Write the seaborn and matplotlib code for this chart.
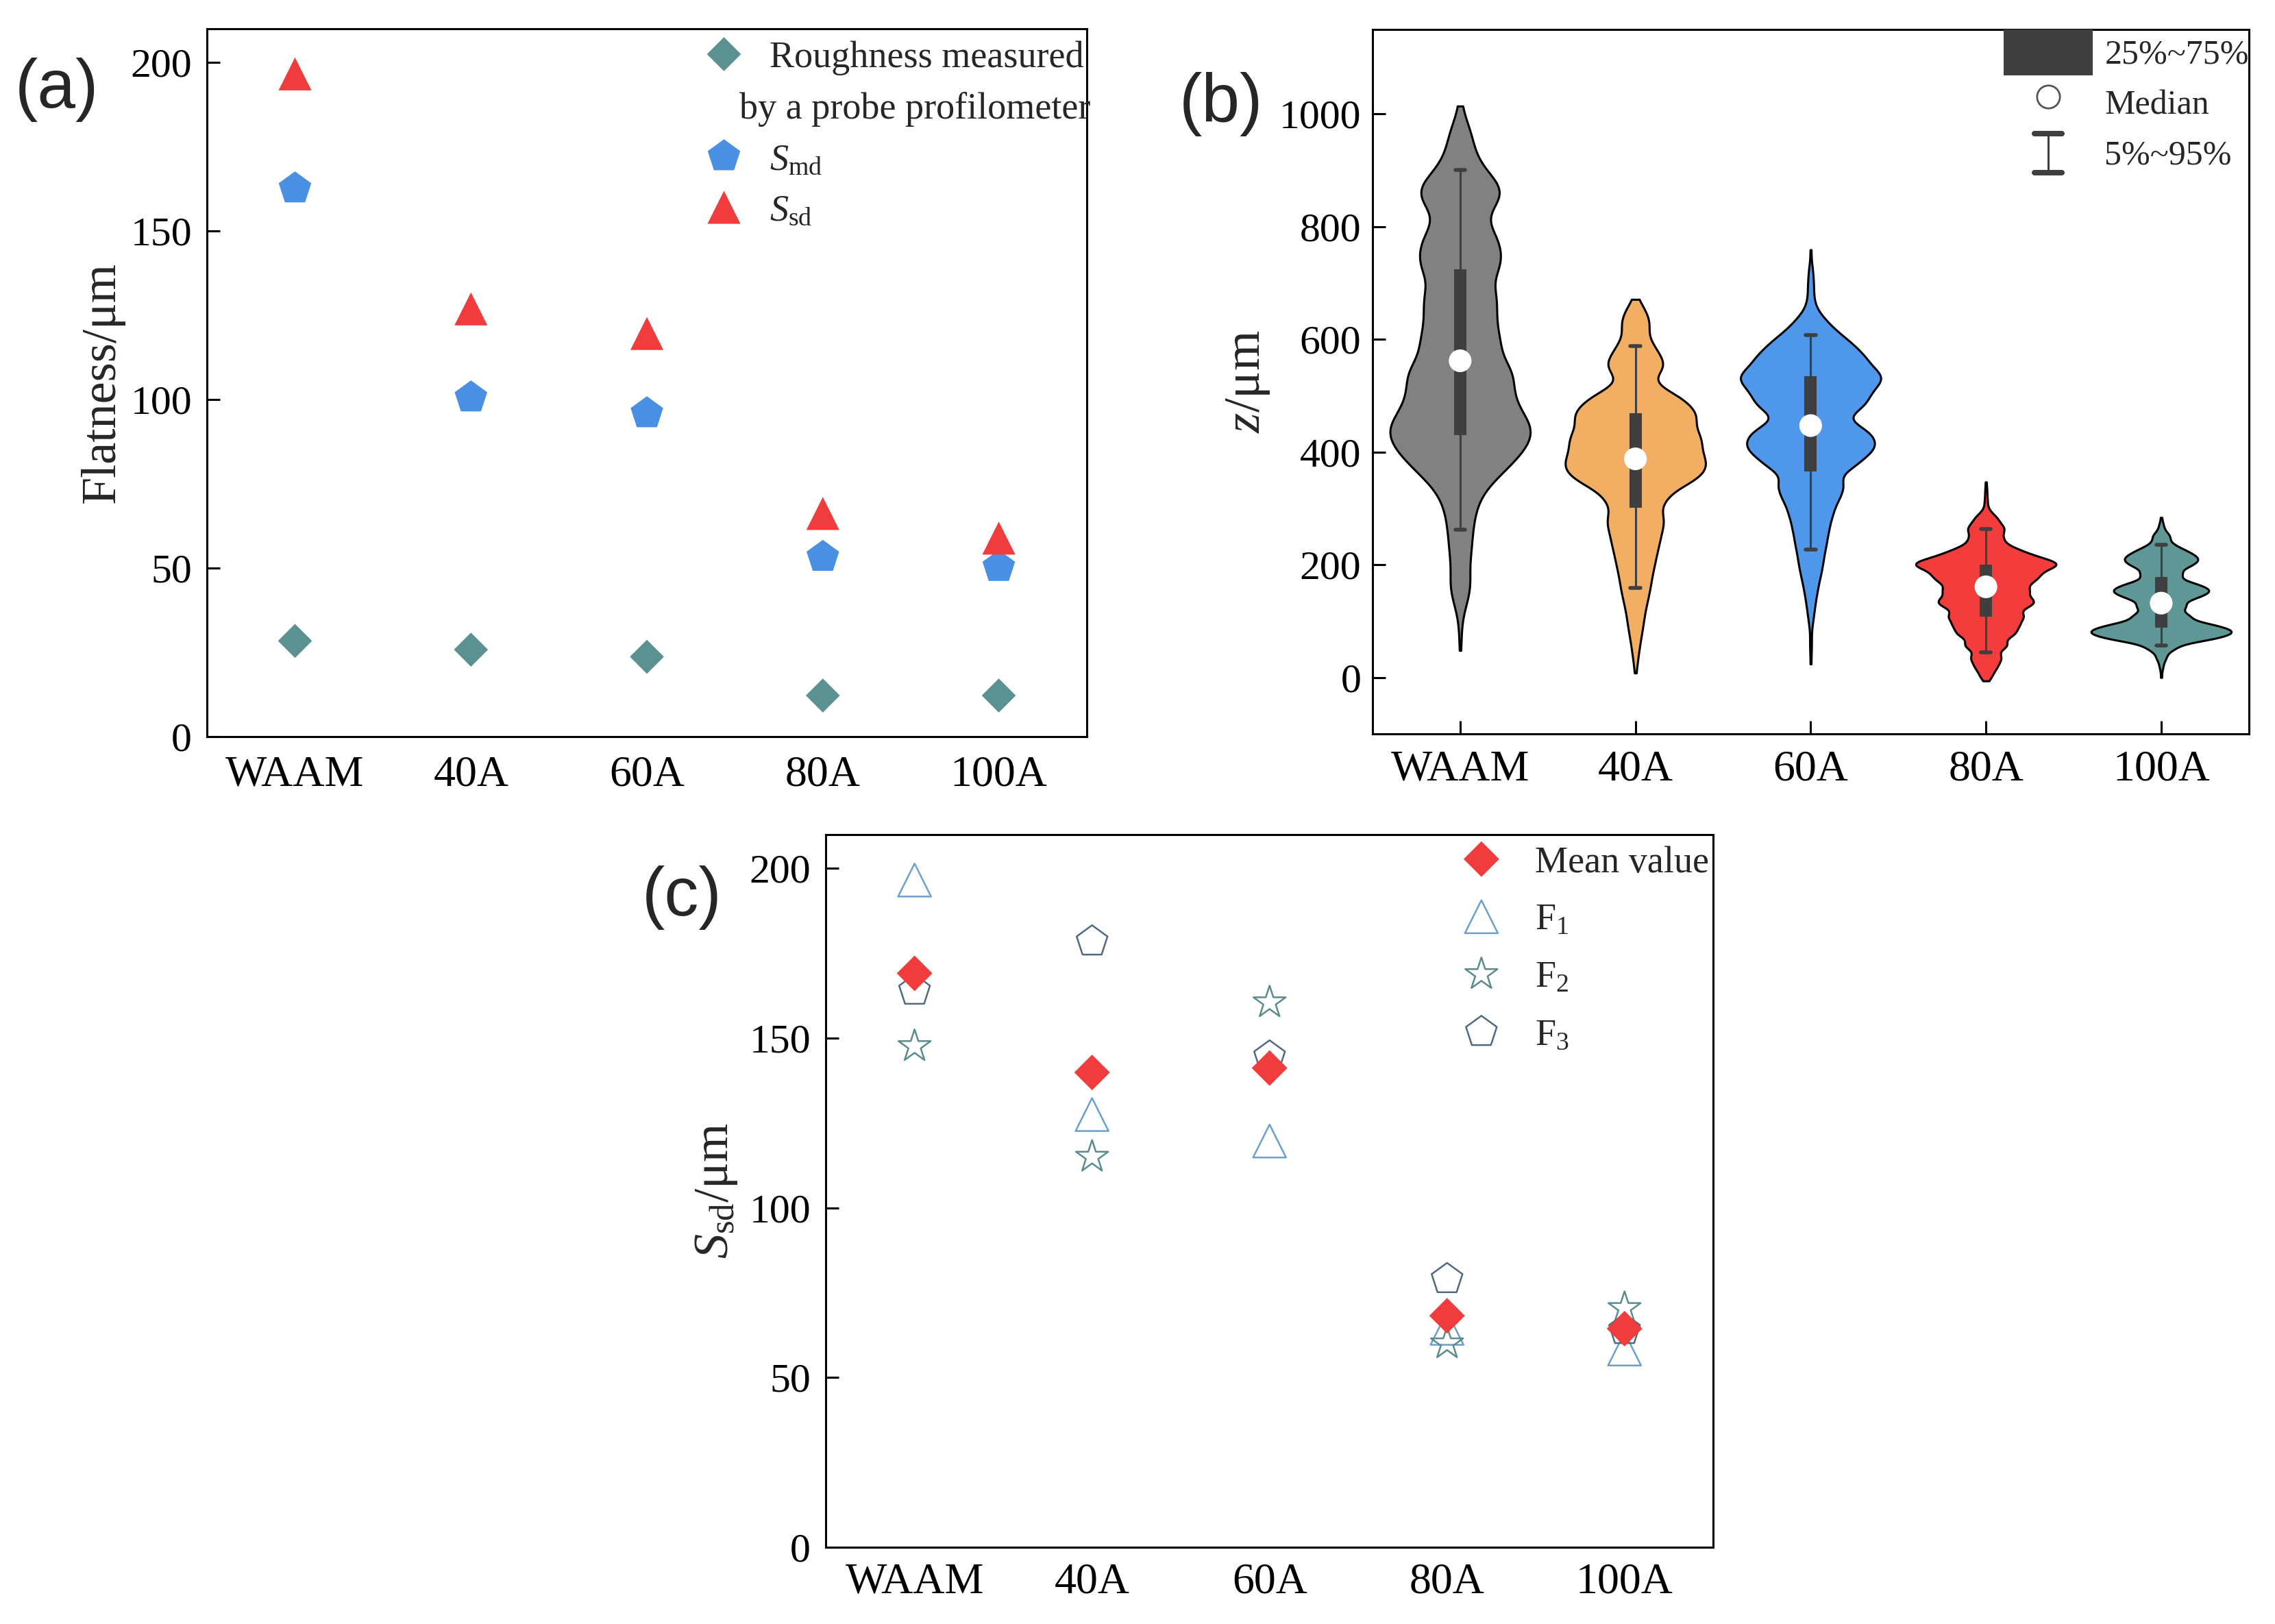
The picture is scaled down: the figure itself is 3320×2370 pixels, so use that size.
import numpy as np
import pandas as pd
import matplotlib
matplotlib.use("Agg")
import matplotlib.pyplot as plt
import seaborn as sns
from matplotlib.lines import Line2D
from matplotlib.patches import Rectangle
from matplotlib.legend_handler import HandlerBase

groups = ["WAAM", "40A", "60A", "80A", "100A"]

# ---- (a) flatness values
rough_probe = [28.4, 25.8, 23.7, 12.2, 12.2]
smd = [162.6, 100.6, 95.9, 53.3, 50.3]
ssd = [196.6, 126.9, 119.6, 66.2, 58.9]

# ---- (c) Ssd of the three scans and their mean
ssd_mean = [169.1, 139.9, 141.2, 68.2, 64.4]
ssd_f1 = [196.6, 127.5, 119.7, 64.5, 58.4]
ssd_f2 = [147.6, 115.0, 160.5, 60.0, 70.4]
ssd_f3 = [164.0, 178.5, 144.6, 79.0, 64.0]

# ---- (b) violin outlines: height (um) and relative width
waam_z = [48, 78, 119, 146, 173, 214, 248, 282, 316, 350, 378, 405, 432, 459, 493,
          527, 554, 595, 636, 677, 724, 758, 792, 840, 867, 888, 922, 963, 1000, 1014]
waam_w = [3, 7, 15, 40, 55, 57, 60, 70, 95, 150, 205, 265, 300, 307, 280,
          240, 235, 250, 215, 237, 225, 205, 190, 185, 175, 115, 92, 75, 15, 3]
a40_z = [8, 27, 45, 65, 85, 105, 126, 146, 166, 187, 207, 227, 247, 268, 288, 316,
         341, 357, 373, 389, 406, 422, 438, 458, 471, 487, 495, 511, 544, 560, 576,
         592, 619, 637, 655, 671]
a40_w = [3, 10, 18, 28, 38, 48, 58, 70, 83, 93, 103, 118, 133, 150, 168, 208,
         243, 278, 310, 303, 273, 283, 288, 268, 238, 168, 143, 153, 158, 128, 88,
         93, 80, 65, 45, 3]
a60_z = [24, 60, 102, 129, 156, 183, 209, 236, 263, 290, 317, 343, 376, 402, 424,
         445, 477, 499, 520, 539, 563, 585, 606, 628, 644, 665, 692, 719, 759]
a60_w = [3, 6, 12, 22, 37, 52, 67, 82, 97, 117, 147, 187, 242, 302, 272,
         237, 252, 242, 262, 314, 262, 197, 137, 72, 27, 17, 16, 15, 3]
a80_z = [-6, 4, 20, 36, 57, 77, 93, 109, 126, 138, 154, 170, 183, 197, 207,
         219, 231, 247, 264, 280, 292, 312, 330, 347]
a80_w = [3, 38, 68, 98, 143, 173, 188, 223, 203, 238, 248, 233, 258, 310, 268,
         188, 123, 98, 113, 68, 23, 10, 6, 3]
a100_z = [0, 20, 36, 53, 69, 81, 93, 109, 126, 142, 154, 166, 183, 199, 211,
          223, 235, 251, 268, 284]
a100_w = [3, 10, 25, 75, 235, 310, 235, 145, 125, 155, 215, 155, 105, 135, 160,
          115, 55, 45, 15, 3]

# percentiles drawn inside the violins
p5 = [262, 159, 227, 45, 57]
q25 = [430, 301, 366, 108, 89]
q50 = [562, 388, 447, 161, 132]
q75 = [724, 469, 535, 200, 179]
p95 = [901, 588, 608, 263, 236]

violin_colors = ["#818181", "#f2ae62", "#4f97ea", "#f33d3d", "#5f9696"]
inner_color = "#3f3f3f"

# ---------------------------------------------------------------
sns.set_style("ticks")
plt.rcParams["font.family"] = ["Liberation Serif", "DejaVu Serif"]
plt.rcParams["mathtext.fontset"] = "custom"
plt.rcParams["mathtext.rm"] = "Liberation Serif"
plt.rcParams["mathtext.it"] = "Liberation Serif:italic"
plt.rcParams["mathtext.bf"] = "Liberation Serif:bold"
plt.rcParams["axes.linewidth"] = 1.1
plt.rcParams["axes.edgecolor"] = "black"

fig = plt.figure(figsize=(16.6, 11.85), dpi=200)
ax_a = fig.add_axes([0.0910, 0.5464, 0.3867, 0.4359])
ax_b = fig.add_axes([0.6033, 0.5481, 0.3852, 0.4338])
ax_c = fig.add_axes([0.3630, 0.0473, 0.3901, 0.4388])


def style_axes(ax, xtick_len, ypad, xpad):
    for sp in ax.spines.values():
        sp.set_visible(True)
        sp.set_linewidth(1.1)
        sp.set_color("black")
    ax.tick_params(axis="y", direction="in", length=7, width=1.1,
                   labelsize=21.5, pad=ypad, right=False, colors="black")
    ax.tick_params(axis="x", direction="in", length=xtick_len, width=1.1,
                   labelsize=23, pad=xpad, top=False, colors="black")
    ax.set_xlabel("")


# ---------------- (a)
sns.scatterplot(x=groups, y=rough_probe, marker="D", s=160, color="#5b9191",
                edgecolor="none", label="Roughness measured", ax=ax_a, zorder=3)
sns.scatterplot(x=groups, y=smd, marker="p", s=324, color="#4a90e2",
                edgecolor="none", label=r"$S_{\mathrm{md}}$", ax=ax_a, zorder=3)
sns.scatterplot(x=groups, y=ssd, marker="^", s=300, color="#f03c3c",
                edgecolor="none", label=r"$S_{\mathrm{sd}}$", ax=ax_a, zorder=3)
ax_a.set_xlim(-0.5, 4.5)
ax_a.set_ylim(0, 210)
ax_a.set_yticks([0, 50, 100, 150, 200])
ax_a.set_ylabel("Flatness/μm", fontsize=26, labelpad=3)
style_axes(ax_a, 0, 8, 10)

h, l = ax_a.get_legend_handles_labels()
h.insert(1, Line2D([], [], linestyle="none"))
l.insert(1, "by a probe profilometer")
leg_a = ax_a.legend(h, l, loc="upper left", bbox_to_anchor=(0.5623, 0.983),
                    frameon=False, fontsize=19.5, borderpad=0, borderaxespad=0,
                    handlelength=1.2, handletextpad=0.63, labelspacing=0.44,
                    scatterpoints=1, scatteryoffsets=[0.5])
leg_a.get_texts()[1].set_x(-44)

# ---------------- (b)
frames = []
for g, zz, ww in zip(groups, [waam_z, a40_z, a60_z, a80_z, a100_z],
                     [waam_w, a40_w, a60_w, a80_w, a100_w]):
    counts = np.round(np.array(ww) * 0.3).astype(int)
    frames.append(pd.DataFrame({"group": g, "z": np.repeat(zz, counts)}))
df_b = pd.concat(frames, ignore_index=True)

sns.violinplot(data=df_b, x="group", y="z", hue="group", order=groups,
               hue_order=groups, palette=dict(zip(groups, violin_colors)),
               inner=None, cut=0, density_norm="width", bw_method=0.135,
               gridsize=400, width=0.8, linewidth=1.1, linecolor="black",
               saturation=1, legend=False, ax=ax_b)

pos = np.arange(len(groups))
ax_b.vlines(pos, p5, p95, color=inner_color, lw=1.1, zorder=3)
ax_b.vlines(pos, q25, q75, color=inner_color, lw=6.5, zorder=4)
ax_b.hlines(p5, pos - 0.028, pos + 0.028, color=inner_color, lw=2.0,
            capstyle="round", zorder=4)
ax_b.hlines(p95, pos - 0.028, pos + 0.028, color=inner_color, lw=2.0,
            capstyle="round", zorder=4)
ax_b.scatter(pos, q50, s=142, color="white", edgecolors="none", zorder=5)

ax_b.set_xlim(-0.5, 4.5)
ax_b.set_ylim(-100, 1150)
ax_b.set_yticks([0, 200, 400, 600, 800, 1000])
ax_b.set_ylabel("$z$/μm", fontsize=27, labelpad=4)
style_axes(ax_b, 7, 6, 8.5)


class WhiskerKey:
    pass


class IBeamHandler(HandlerBase):
    def create_artists(self, legend, orig_handle, xdescent, ydescent,
                       width, height, fontsize, trans):
        cx = -xdescent + width / 2
        y0 = -ydescent + 0.08 * height
        y1 = -ydescent + 0.92 * height
        half = 0.155 * width
        stem = Line2D([cx, cx], [y0, y1], color=inner_color, lw=1.1)
        lo = Line2D([cx - half, cx + half], [y0, y0], color=inner_color,
                    lw=2.9, solid_capstyle="round")
        hi = Line2D([cx - half, cx + half], [y1, y1], color=inner_color,
                    lw=2.9, solid_capstyle="round")
        for art in (stem, lo, hi):
            art.set_transform(trans)
        return [stem, lo, hi]


box_handle = Rectangle((0, 0), 1, 1, facecolor=inner_color, edgecolor="none")
med_handle = Line2D([], [], linestyle="none", marker="o", markersize=12,
                    markerfacecolor="white", markeredgecolor="#555555",
                    markeredgewidth=1.0)
ax_b.legend([box_handle, med_handle, WhiskerKey()],
            ["25%~75%", "Median", "5%~95%"],
            handler_map={WhiskerKey: IBeamHandler()},
            loc="upper right", frameon=False, fontsize=18, borderpad=0,
            borderaxespad=0, handlelength=2.6, handleheight=1.7,
            handletextpad=0.35, labelspacing=0.12)

# ---------------- (c)
sns.scatterplot(x=groups, y=ssd_f1, marker="^", s=300, facecolor="none",
                edgecolor="#6a9fcf", linewidth=0.9, label="F$_1$", ax=ax_c, zorder=3)
sns.scatterplot(x=groups, y=ssd_f2, marker="*", s=317, facecolor="none",
                edgecolor="#5a8c8c", linewidth=0.9, label="F$_2$", ax=ax_c, zorder=3)
sns.scatterplot(x=groups, y=ssd_f3, marker="p", s=290, facecolor="none",
                edgecolor="#4e6a82", linewidth=0.9, label="F$_3$", ax=ax_c, zorder=3)
sns.scatterplot(x=groups, y=ssd_mean, marker="D", s=175, color="#f03c3c",
                edgecolor="none", label="Mean value", ax=ax_c, zorder=4)
ax_c.set_xlim(-0.5, 4.5)
ax_c.set_ylim(0, 210)
ax_c.set_yticks([0, 50, 100, 150, 200])
ax_c.set_ylabel(r"$S_{\mathrm{sd}}$/μm", fontsize=26, labelpad=5)
style_axes(ax_c, 0, 8, 8)

h, l = ax_c.get_legend_handles_labels()
order = [3, 0, 1, 2]
ax_c.legend([h[i] for i in order], [l[i] for i in order], loc="upper right",
            bbox_to_anchor=(1.008, 1), frameon=False, fontsize=19.5, borderpad=0.3,
            borderaxespad=0, handlelength=1.6, handletextpad=0.65,
            labelspacing=0.62, scatterpoints=1, scatteryoffsets=[0.5])

# panel letters
for x, y, t in [(0.0066, 0.9447, "(a)"), (0.5184, 0.9359, "(b)"),
                (0.2822, 0.4473, "(c)")]:
    fig.text(x, y, t, fontsize=36, family="Liberation Sans", va="center", ha="left")

fig.savefig("out.png", dpi=200, facecolor="white")
